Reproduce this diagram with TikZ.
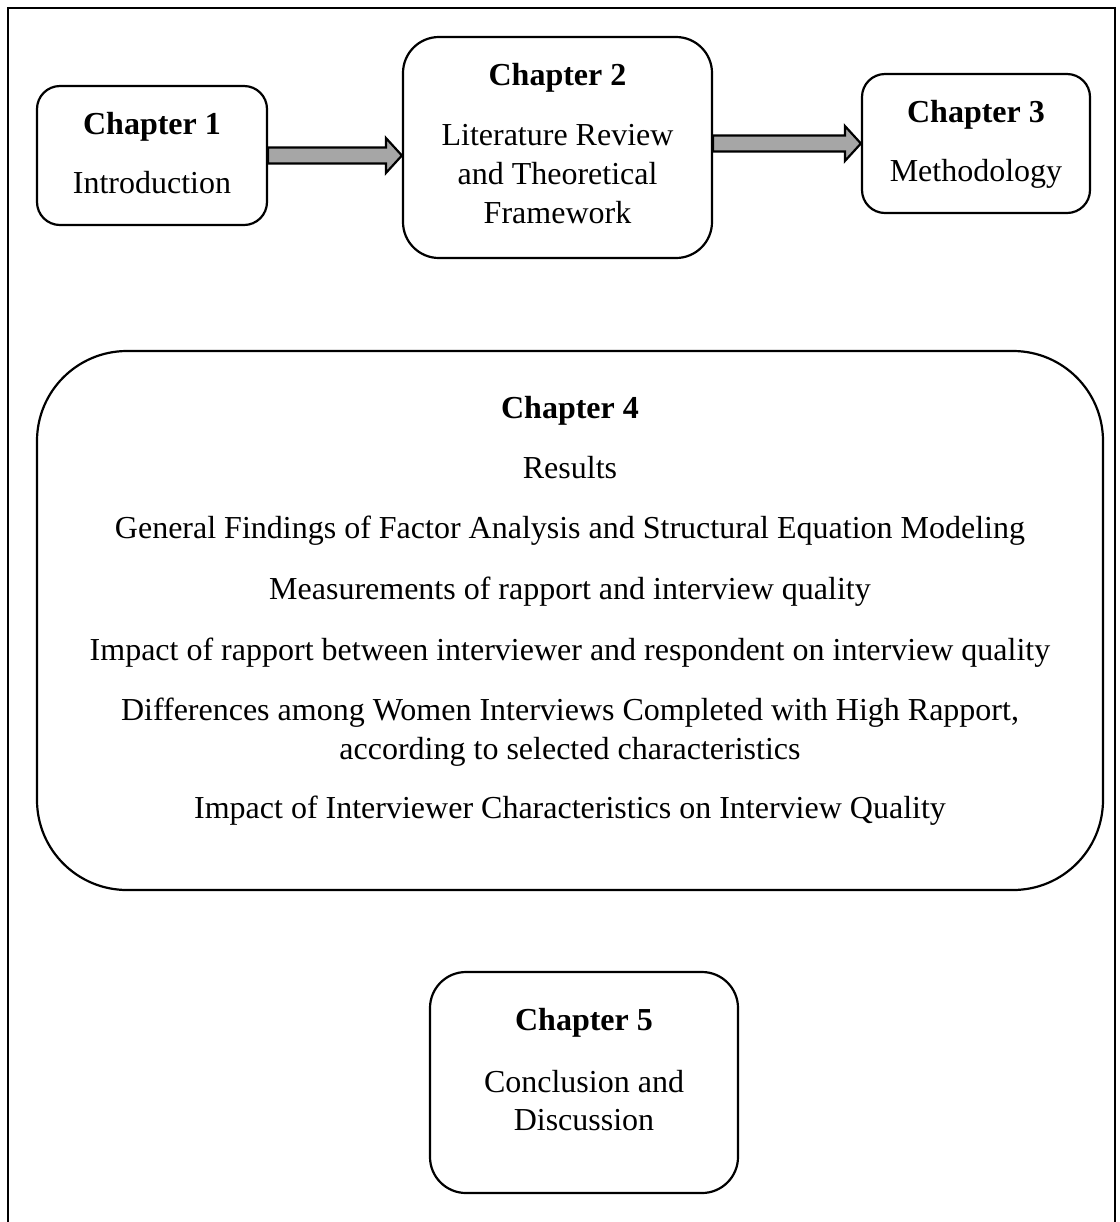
\documentclass[tikz,border=0pt]{standalone}
\usepackage{fontspec}
\setmainfont{Liberation Serif}
\usetikzlibrary{calc}

\begin{document}
\begin{tikzpicture}[x=0.5pt,y=-0.5pt,
  box/.style={draw=black, line width=1.1pt, fill=white, inner sep=0pt},
  txt/.style={anchor=base, inner sep=0pt, font=\fontsize{16}{19.5}\selectfont},
  head/.style={txt, font=\fontsize{16}{19.5}\selectfont\bfseries},
  blockarrow/.style={draw=black, line width=1.1pt, fill=black!35, line join=miter}]

\useasboundingbox (0,0) rectangle (1120,1222);

% outer frame (open at the bottom edge of the page)
\draw[line width=1.3pt] (8,1222) -- (8,8) -- (1115,8) -- (1115,1222);

% chapter boxes
\node[box, minimum width=115pt, minimum height=69.5pt, rounded corners=11.5pt] (ch1) at (152,155.5) {};
\node[box, minimum width=154.5pt, minimum height=110.5pt, rounded corners=18pt] (ch2) at (557.5,147.5) {};
\node[box, minimum width=114pt, minimum height=69.5pt, rounded corners=11.5pt] (ch3) at (976,143.5) {};
\node[box, minimum width=533pt, minimum height=269.5pt, rounded corners=45pt] (ch4) at (570,620.5) {};
\node[box, minimum width=154pt, minimum height=110.5pt, rounded corners=18pt] (ch5) at (584,1082.5) {};

% Chapter 1
\node[head] (t1a) at (152,134) {Chapter 1};
\node[txt]  (t1b) at (152,193) {Introduction};

% Chapter 2
\node[head] (t2a) at (557.5,85)  {Chapter 2};
\node[txt]  (t2b) at (557.5,145) {Literature Review};
\node[txt]  (t2c) at (557.5,184) {and Theoretical};
\node[txt]  (t2d) at (557.5,223) {Framework};

% Chapter 3
\node[head] (t3a) at (976,122) {Chapter 3};
\node[txt]  (t3b) at (976,181) {Methodology};

% Chapter 4
\node[head] (t4a) at (570,418) {Chapter 4};
\node[txt]  (t4b) at (570,478) {Results};
\node[txt]  (t4c) at (570,538) {General Findings of Factor Analysis and Structural Equation Modeling};
\node[txt]  (t4d) at (570,599) {Measurements of rapport and interview quality};
\node[txt]  (t4e) at (570,660) {Impact of rapport between interviewer and respondent on interview quality};
\node[txt]  (t4f) at (570,720) {Differences among Women Interviews Completed with High Rapport,};
\node[txt]  (t4g) at (570,759) {according to selected characteristics};
\node[txt]  (t4h) at (570,818) {Impact of Interviewer Characteristics on Interview Quality};

% Chapter 5
\node[head] (t5a) at (584,1030) {Chapter 5};
\node[txt]  (t5b) at (584,1092) {Conclusion and};
\node[txt]  (t5c) at (584,1130) {Discussion};

% block arrows between the top boxes
\coordinate (tip1) at (ch2.west |- ch1.east);
\draw[blockarrow] ($(ch1.east)+(0,-8)$) -- ($(tip1)+(-16,-8)$) -- ($(tip1)+(-16,-17.5)$)
  -- (tip1) -- ($(tip1)+(-16,17.5)$) -- ($(tip1)+(-16,8)$) -- ($(ch1.east)+(0,8)$) -- cycle;

\coordinate (tip2) at (ch3.west);
\coordinate (base2) at (ch2.east |- ch3.west);
\draw[blockarrow] ($(base2)+(0,-8)$) -- ($(tip2)+(-16,-8)$) -- ($(tip2)+(-16,-17.5)$)
  -- (tip2) -- ($(tip2)+(-16,17.5)$) -- ($(tip2)+(-16,8)$) -- ($(base2)+(0,8)$) -- cycle;

\end{tikzpicture}
\end{document}
